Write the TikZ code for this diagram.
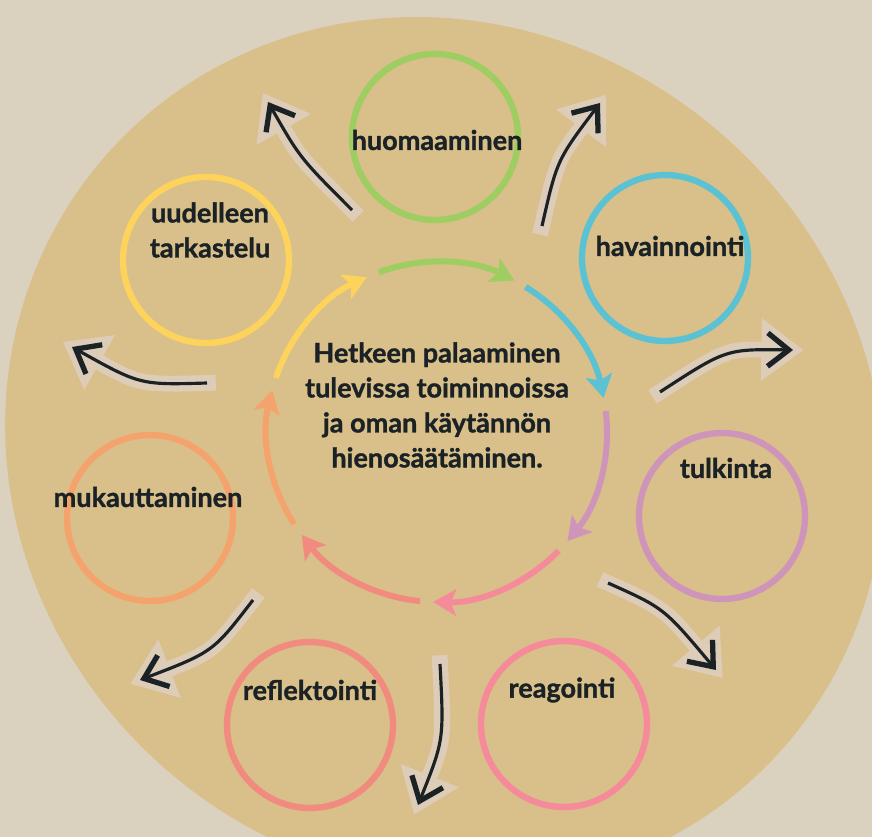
\documentclass[tikz,border=0pt]{standalone}
\usepackage{fontspec}
\setmainfont{Lato}[BoldFeatures={FakeBold=1.2}]
\usepackage{xcolor}
\usetikzlibrary{arrows.meta, calc}

\definecolor{paper}{RGB}{219,209,191}
\definecolor{blob}{RGB}{217,191,137}
\definecolor{patch}{RGB}{221,204,184}
\definecolor{ink}{RGB}{26,34,38}
\definecolor{cgreen}{RGB}{158,205,98}
\definecolor{cblue}{RGB}{90,194,211}
\definecolor{cpurple}{RGB}{206,148,185}
\definecolor{cpink}{RGB}{245,138,155}
\definecolor{csalmon}{RGB}{242,139,127}
\definecolor{corange}{RGB}{245,163,108}
\definecolor{cyellow}{RGB}{253,211,91}

\tikzset{
  stage/.style={circle, draw, line width=3.6pt, minimum size=3.32cm, inner sep=0pt},
  stagetext/.style={font=\bfseries\fontsize{15.4}{19.9}\selectfont, text=ink, align=center, inner sep=0pt},
  ringarrow/.style={line width=3.4pt, -{Stealth[length=13pt,width=15pt,inset=3pt]}},
  outback/.style={draw=patch, line width=9pt, shorten <=-5pt, shorten >=-6pt,
    -{Triangle[length=24pt,width=34pt]}},
  outfront/.style={draw=ink, line width=1.8pt,
    -{Straight Barb[length=12pt,width=19pt,line width=3pt]}},
}

\begin{document}
\begin{tikzpicture}[x=0.02cm, y=-0.02cm]
    \useasboundingbox (0,0) rectangle (872,837);
    \clip (0,0) rectangle (872,837);
    \fill[paper] (0,0) rectangle (872,837);
    \fill[blob, shift={(452,450)}] plot[domain=0:356, samples=90, smooth cycle]
        (\x:{436+14*cos(2*(\x-40))-8*cos(\x-345)});

    \coordinate (ring) at (437,432);
    \foreach \col [count=\i from 0] in {cgreen,cblue,cpurple,cpink,csalmon,corange,cyellow}
        \draw[ringarrow, draw=\col] ($(ring)+(-110+51.43*\i:170)$)
            arc[start angle=-110+51.43*\i, delta angle=47, radius=170];

    \node[stage, draw=cgreen]  (huom) at (435,137) {};
    \node[stage, draw=cblue]   (hava) at (665,258) {};
    \node[stage, draw=cpurple] (tulk) at (722,516) {};
    \node[stage, draw=cpink]   (reag) at (564,724) {};
    \node[stage, draw=csalmon] (refl) at (310,725) {};
    \node[stage, draw=corange] (muka) at (150,518) {};
    \node[stage, draw=cyellow] (uude) at (206,260) {};

    \node[stagetext] (huomt) at (437,140) {huomaaminen};
    \node[stagetext] (havat) at (670,246) {havainnointi};
    \node[stagetext] (tulkt) at (726,468) {tulkinta};
    \node[stagetext] (reagt) at (562,690) {reagointi};
    \node[stagetext] (reflt) at (310,690) {reflektointi};
    \node[stagetext] (mukat) at (148,497) {mukauttaminen};
    \node[stagetext] (uudet) at (210,230) {uudelleen\\tarkastelu};
    \node[stagetext] (core) at (437,405) {Hetkeen palaaminen\\tulevissa toiminnoissa\\ja oman käytännön\\hienosäätäminen.};

    \coordinate (t1) at (352,210); \coordinate (c1) at (300,158); \coordinate (h1) at (268,102);
    \coordinate (t2) at (542,226); \coordinate (c2) at (557,160); \coordinate (h2) at (600,103);
    \coordinate (t3) at (660,392); \coordinate (c3) at (726,349); \coordinate (h3) at (793,350);
    \coordinate (t4) at (608,583); \coordinate (c4) at (664,608); \coordinate (h4) at (716,670);
    \coordinate (t5) at (440,664); \coordinate (c5) at (444,740); \coordinate (h5) at (418,805);
    \coordinate (t6) at (253,600); \coordinate (c6) at (213,652); \coordinate (h6) at (140,680);
    \coordinate (t7) at (207,383); \coordinate (c7) at (140,385); \coordinate (h7) at (72,347);
    \foreach \k in {1,...,7} {
        \draw[outback] (t\k) .. controls (c\k) .. (h\k);
        \draw[outfront] (t\k) .. controls (c\k) .. (h\k);
    }
\end{tikzpicture}
\end{document}
